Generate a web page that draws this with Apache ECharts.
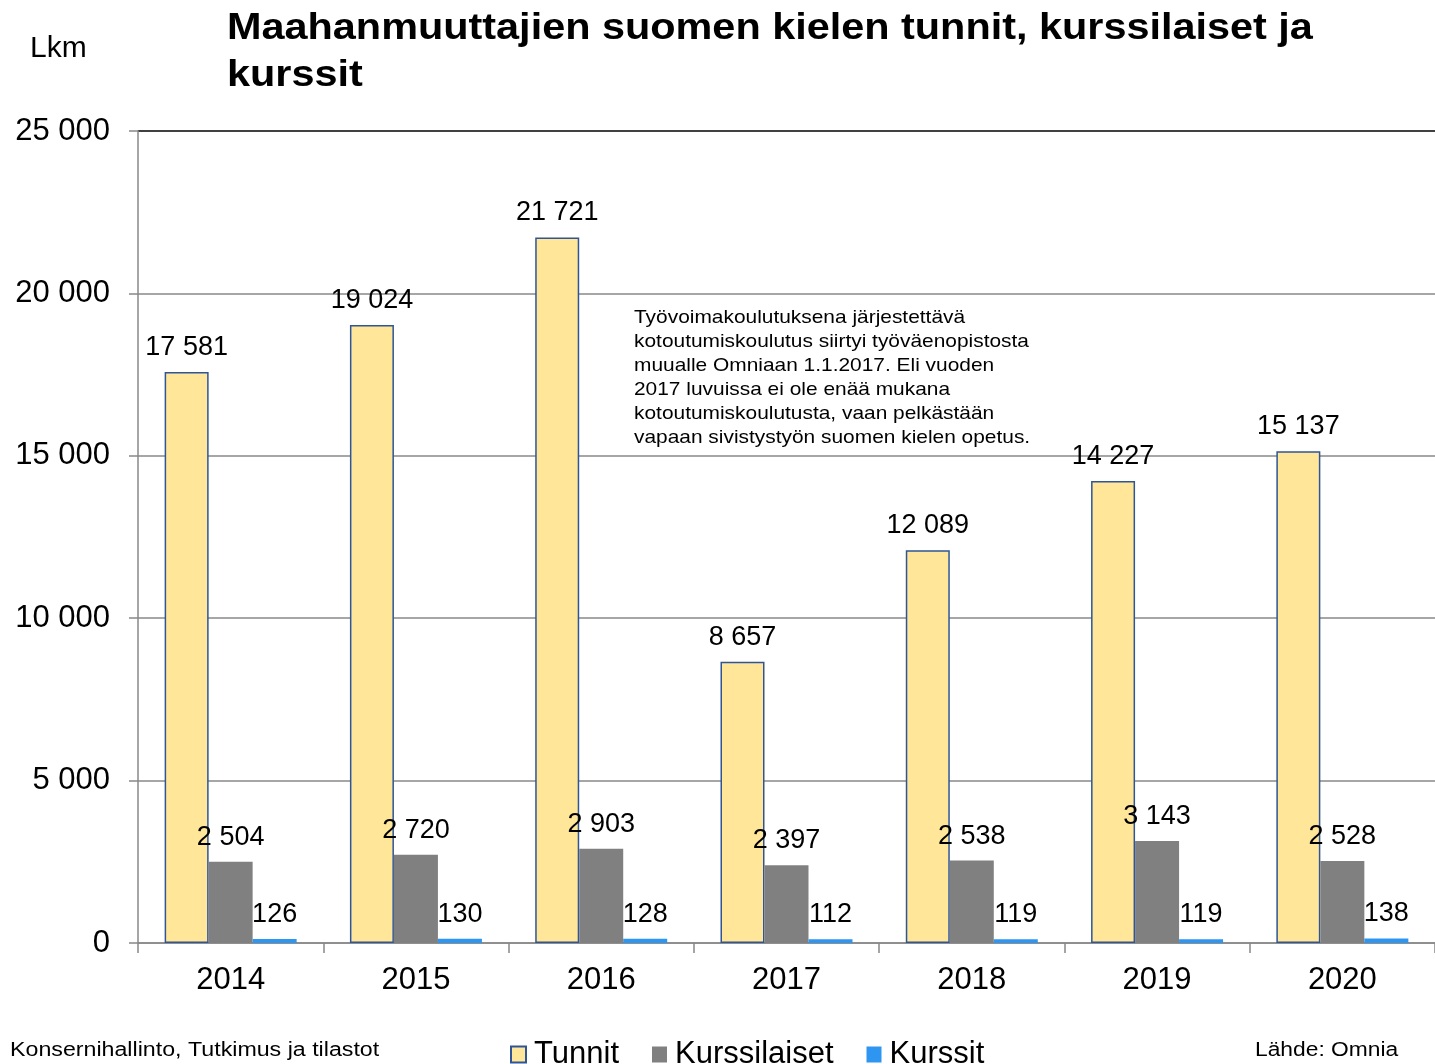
<!DOCTYPE html>
<html>
<head>
<meta charset="utf-8">
<script src="https://cdn.jsdelivr.net/npm/echarts@6/dist/echarts.min.js"></script>
<style>
html,body{margin:0;padding:0;background:#fff;}
#chart{width:1435px;height:1064px;}
</style>
</head>
<body>
<div id="chart"></div>
<script>
const categories = ['2014','2015','2016','2017','2018','2019','2020'];
const tunnit = [17581, 19024, 21721, 8657, 12089, 14227, 15137];
const kurssilaiset = [2504, 2720, 2903, 2397, 2538, 3143, 2528];
const kurssit = [126, 130, 128, 112, 119, 119, 138];
const seriesNames = ['Tunnit', 'Kurssilaiset', 'Kurssit'];
const yTicks = [0, 5000, 10000, 15000, 20000, 25000];

const FONT = '"Liberation Sans", Arial, sans-serif';
function fmt(v){ return String(v).replace(/\B(?=(\d{3})+(?!\d))/g, ' '); }

const chart = echarts.init(document.getElementById('chart'), null, {renderer:'canvas'});
const labelCommon = {
  show: true, position: 'top', distance: 11,
  color: '#000', fontSize: 27, fontFamily: FONT,
  formatter: p => fmt(p.value)
};
function stretchedText(x, y, text, size, sx, extra){
  return {
    type: 'text', x: x, y: y, scaleX: sx, scaleY: 1,
    style: Object.assign({text: text, fontSize: size, fontFamily: FONT, fill: '#000',
      textAlign: 'left', textVerticalAlign: 'middle'}, extra || {})
  };
}
chart.setOption({
  backgroundColor: '#fff',
  animation: false,
  grid: {left: 138, right: 0, top: 131, bottom: 121, containLabel: false},
  legend: {
    data: seriesNames,
    left: 505, top: 1034,
    itemWidth: 15, itemHeight: 16, itemGap: 33,
    icon: 'rect',
    textStyle: {fontSize: 31, fontFamily: FONT, color: '#000', padding: [0,0,0,3]}
  },
  xAxis: {
    type: 'category',
    data: categories,
    axisLine: {lineStyle: {color: '#888', width: 1.5}},
    axisTick: {show: true, length: 10, lineStyle: {color: '#888', width: 1.5}},
    axisLabel: {fontSize: 31, fontFamily: FONT, color: '#000', margin: 22}
  },
  yAxis: {
    type: 'value',
    min: yTicks[0], max: yTicks[yTicks.length-1], interval: yTicks[1]-yTicks[0],
    axisLine: {show: true, lineStyle: {color: '#888', width: 1.5}},
    axisTick: {show: true, length: 9, lineStyle: {color: '#888', width: 1.5}},
    axisLabel: {fontSize: 31, fontFamily: FONT, color: '#000', margin: 28, formatter: v => fmt(v)},
    splitLine: {lineStyle: {color: ['#888','#888','#888','#888','#888','#000'], width: 1.5}}
  },
  series: [
    {
      name: seriesNames[0], type: 'bar', data: tunnit,
      barWidth: 44, barGap: '0%',
      itemStyle: {color: '#FFE699', borderColor: '#2F5597', borderWidth: 1.5},
      label: labelCommon
    },
    {
      name: seriesNames[1], type: 'bar', data: kurssilaiset,
      barWidth: 44, barGap: '0%',
      itemStyle: {color: '#808080'},
      label: labelCommon
    },
    {
      name: seriesNames[2], type: 'bar', data: kurssit,
      barWidth: 44, barGap: '0%',
      itemStyle: {color: '#2E95F0'},
      label: labelCommon
    }
  ],
  graphic: [
    stretchedText(227, 29, 'Maahanmuuttajien suomen kielen tunnit, kurssilaiset ja', 36, 1.15, {fontWeight: 'bold'}),
    stretchedText(227, 76, 'kurssit', 36, 1.15, {fontWeight: 'bold'}),
    stretchedText(30, 49, 'Lkm', 30, 1.0),
    {
      type: 'text', x: 634, y: 306, scaleX: 1.1, scaleY: 1,
      style: {
        text: 'Työvoimakoulutuksena järjestettävä\nkotoutumiskoulutus siirtyi työväenopistosta\nmuualle Omniaan 1.1.2017. Eli vuoden\n2017 luvuissa ei ole enää mukana\nkotoutumiskoulutusta, vaan pelkästään\nvapaan sivistystyön suomen kielen opetus.',
        fontSize: 19, lineHeight: 24, fontFamily: FONT, fill: '#000',
        textAlign: 'left', textVerticalAlign: 'top'
      }
    },
    stretchedText(10, 1050, 'Konsernihallinto, Tutkimus ja tilastot', 20, 1.16),
    stretchedText(1255, 1050, 'Lähde: Omnia', 20, 1.14)
  ]
});
</script>
</body>
</html>
